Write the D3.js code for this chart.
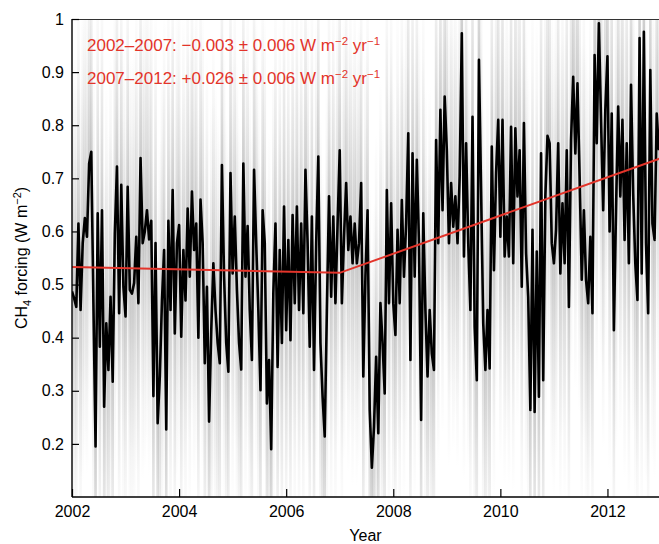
<!DOCTYPE html>
<html>
<head>
<meta charset="utf-8">
<script src="https://cdn.jsdelivr.net/npm/d3@7"></script>
<style>
  body { margin: 0; background: #fff; }
  text { font-family: "Liberation Sans", Arial, Helvetica, sans-serif; }
</style>
</head>
<body>
<div id="chart-area"></div>
<script>
// CH4 forcing, sampled every 0.04 yr from 2002.0
const startYear = 2002
const stepYears = 0.04
const forcing = [
  0.487, 0.474, 0.458, 0.615, 0.452, 0.578, 0.625, 0.590, 0.728, 0.750,
  0.465, 0.195, 0.634, 0.383, 0.640, 0.270, 0.427, 0.339, 0.477, 0.317,
  0.597, 0.722, 0.446, 0.688, 0.496, 0.440, 0.684, 0.490, 0.483, 0.503,
  0.590, 0.465, 0.738, 0.578, 0.600, 0.640, 0.585, 0.620, 0.290, 0.578,
  0.239, 0.327, 0.470, 0.565, 0.227, 0.620, 0.452, 0.678, 0.408, 0.578,
  0.612, 0.402, 0.565, 0.470, 0.643, 0.515, 0.675, 0.565, 0.615, 0.400,
  0.660, 0.578, 0.352, 0.496, 0.242, 0.412, 0.540, 0.452, 0.390, 0.352,
  0.725, 0.515, 0.390, 0.336, 0.710, 0.521, 0.628, 0.490, 0.390, 0.340,
  0.728, 0.515, 0.610, 0.452, 0.358, 0.716, 0.578, 0.452, 0.301, 0.640,
  0.578, 0.276, 0.358, 0.190, 0.484, 0.615, 0.345, 0.565, 0.390, 0.647,
  0.414, 0.584, 0.395, 0.631, 0.465, 0.647, 0.452, 0.615, 0.446, 0.716,
  0.578, 0.383, 0.628, 0.339, 0.578, 0.741, 0.390, 0.289, 0.214, 0.452,
  0.666, 0.477, 0.628, 0.465, 0.615, 0.753, 0.465, 0.590, 0.691, 0.565,
  0.628, 0.540, 0.615, 0.540, 0.578, 0.691, 0.327, 0.515, 0.640, 0.264,
  0.155, 0.232, 0.364, 0.220, 0.465, 0.390, 0.295, 0.678, 0.465, 0.653,
  0.465, 0.405, 0.603, 0.465, 0.659, 0.515, 0.615, 0.785, 0.358, 0.747,
  0.515, 0.735, 0.578, 0.245, 0.634, 0.452, 0.327, 0.452, 0.370, 0.339,
  0.772, 0.578, 0.829, 0.640, 0.854, 0.753, 0.578, 0.691, 0.609, 0.666,
  0.578, 0.703, 0.973, 0.553, 0.766, 0.578, 0.452, 0.816, 0.420, 0.320,
  0.923, 0.678, 0.427, 0.339, 0.452, 0.342, 0.760, 0.527, 0.710, 0.810,
  0.590, 0.810, 0.553, 0.628, 0.553, 0.797, 0.540, 0.794, 0.666, 0.753,
  0.496, 0.804, 0.559, 0.477, 0.264, 0.603, 0.260, 0.562, 0.289, 0.747,
  0.320, 0.666, 0.780, 0.766, 0.578, 0.540, 0.603, 0.766, 0.521, 0.653,
  0.540, 0.753, 0.458, 0.772, 0.891, 0.747, 0.879, 0.703, 0.509, 0.640,
  0.509, 0.465, 0.590, 0.446, 0.932, 0.766, 0.992, 0.810, 0.640, 0.829,
  0.930, 0.600, 0.822, 0.414, 0.640, 0.835, 0.666, 0.810, 0.584, 0.766,
  0.540, 0.876, 0.672, 0.540, 0.471, 0.964, 0.521, 0.976, 0.578, 0.446,
  0.904, 0.615, 0.584, 0.822, 0.753
]

// uncertainty half-width of the grey band, per year
const spreadYears = [2002, 2003, 2004, 2005, 2006, 2007, 2008, 2009, 2010, 2011, 2012, 2013]
const spread = [0.45, 0.45, 0.44, 0.43, 0.43, 0.42, 0.42, 0.42, 0.43, 0.44, 0.45, 0.45]

// piecewise linear trend
const trendYears = [2002, 2007, 2013]
const trendValues = [0.533, 0.522, 0.738]

const xTicks = [2002, 2004, 2006, 2008, 2010, 2012]
const yTicks = [0.2, 0.3, 0.4, 0.5, 0.6, 0.7, 0.8, 0.9, 1]

const trendLabels = [
  { text: "2002\u20132007: \u22120.003 \u00b1 0.006 W m", sup1: "\u22122", mid: " yr", sup2: "\u22121" },
  { text: "2007\u20132012: +0.026 \u00b1 0.006 W m", sup1: "\u22122", mid: " yr", sup2: "\u22121" }
]

const RED = "#e3342a"
const PLOT = { LEFT: 72, RIGHT: 659, TOP: 19, BOTTOM: 497 }

const svg = d3.select("#chart-area").append("svg")
  .attr("width", 659)
  .attr("height", 544)

const x = d3.scaleLinear().domain([2002, 2013]).range([PLOT.LEFT, 661])
const y = d3.scaleLinear().domain([0.1, 1]).range([PLOT.BOTTOM, PLOT.TOP])
const spreadAt = d3.scaleLinear().domain(spreadYears).range(spread)

const points = forcing.map((v, i) => ({ year: startYear + i * stepYears, v: v }))

const defs = svg.append("defs")
defs.append("clipPath").attr("id", "clip")
  .append("rect")
  .attr("x", PLOT.LEFT).attr("y", PLOT.TOP)
  .attr("width", PLOT.RIGHT - PLOT.LEFT).attr("height", PLOT.BOTTOM - PLOT.TOP)

const grad = defs.append("linearGradient").attr("id", "streak")
  .attr("x1", 0).attr("y1", 0).attr("x2", 0).attr("y2", 1)
const stops = [[0, 0], [0.15, 0.1], [0.35, 0.35], [0.5, 0.6], [0.65, 0.35], [0.85, 0.1], [1, 0]]
stops.forEach(s => {
  grad.append("stop").attr("offset", s[0]).attr("stop-color", "#aaaaaa").attr("stop-opacity", s[1])
})

const plot = svg.append("g").attr("clip-path", "url(#clip)")

// grey uncertainty streaks
plot.selectAll("rect.band")
  .data(points)
  .enter().append("rect")
  .attr("class", "band")
  .attr("x", d => x(d.year) - 1.3)
  .attr("width", 2.6)
  .attr("y", d => y(d.v + spreadAt(d.year)))
  .attr("height", d => y(d.v - spreadAt(d.year)) - y(d.v + spreadAt(d.year)))
  .attr("fill", "url(#streak)")

// black series
const line = d3.line().x(d => x(d.year)).y(d => y(d.v))
plot.append("path")
  .datum(points)
  .attr("d", line)
  .attr("fill", "none")
  .attr("stroke", "#000")
  .attr("stroke-width", 2.6)
  .attr("stroke-linejoin", "round")

// red trend
const trend = trendYears.map((t, i) => ({ year: t, v: trendValues[i] }))
plot.append("path")
  .datum(trend)
  .attr("d", line)
  .attr("fill", "none")
  .attr("stroke", RED)
  .attr("stroke-width", 2)

// frame top
svg.append("line")
  .attr("x1", PLOT.LEFT).attr("x2", PLOT.RIGHT)
  .attr("y1", PLOT.TOP + 0.5).attr("y2", PLOT.TOP + 0.5)
  .attr("stroke", "#333").attr("stroke-width", 1)

// axes
const yAxis = svg.append("g")
  .attr("transform", `translate(${PLOT.LEFT}, 0)`)
  .call(d3.axisLeft(y).tickValues(yTicks).tickSize(-7).tickSizeOuter(0).tickPadding(8)
    .tickFormat(d3.format("~g")))
const xAxis = svg.append("g")
  .attr("transform", `translate(0, ${PLOT.BOTTOM})`)
  .call(d3.axisBottom(x).tickValues(xTicks).tickSize(-8).tickSizeOuter(0).tickPadding(9)
    .tickFormat(d3.format("d")))

;[yAxis, xAxis].forEach(a => {
  a.select(".domain").attr("stroke", "#000").attr("stroke-width", 1.4)
  a.selectAll(".tick line").attr("stroke", "#000").attr("stroke-width", 1.2)
  a.selectAll(".tick text")
    .attr("fill", "#000")
    .style("font-size", "16px")
    .style("font-family", "'Liberation Sans', Arial, sans-serif")
})
xAxis.select(".domain").attr("d", `M${PLOT.LEFT},0H${PLOT.RIGHT}`)
yAxis.select(".domain").attr("d", `M0,${PLOT.TOP}V${PLOT.BOTTOM}`)

// axis titles
svg.append("text")
  .attr("x", (PLOT.LEFT + PLOT.RIGHT) / 2)
  .attr("y", 541)
  .attr("text-anchor", "middle")
  .style("font-size", "16px")
  .text("Year")

const yLab = svg.append("text")
  .attr("transform", "translate(27, 258) rotate(-90)")
  .attr("text-anchor", "middle")
  .style("font-size", "16px")
yLab.append("tspan").text("CH")
yLab.append("tspan").attr("dy", 4).style("font-size", "11px").text("4")
yLab.append("tspan").attr("dy", -4).text(" forcing (W m")
yLab.append("tspan").attr("dy", -6).style("font-size", "11px").text("\u22122")
yLab.append("tspan").attr("dy", 6).text(")")

// trend annotations
trendLabels.forEach((lab, i) => {
  const t = svg.append("text")
    .attr("x", 87)
    .attr("y", 51 + i * 33)
    .attr("fill", RED)
    .style("font-size", "17px")
  t.append("tspan").text(lab.text)
  t.append("tspan").attr("dy", -6).style("font-size", "11.5px").text(lab.sup1)
  t.append("tspan").attr("dy", 6).text(lab.mid)
  t.append("tspan").attr("dy", -6).style("font-size", "11.5px").text(lab.sup2)
})
</script>
</body>
</html>
